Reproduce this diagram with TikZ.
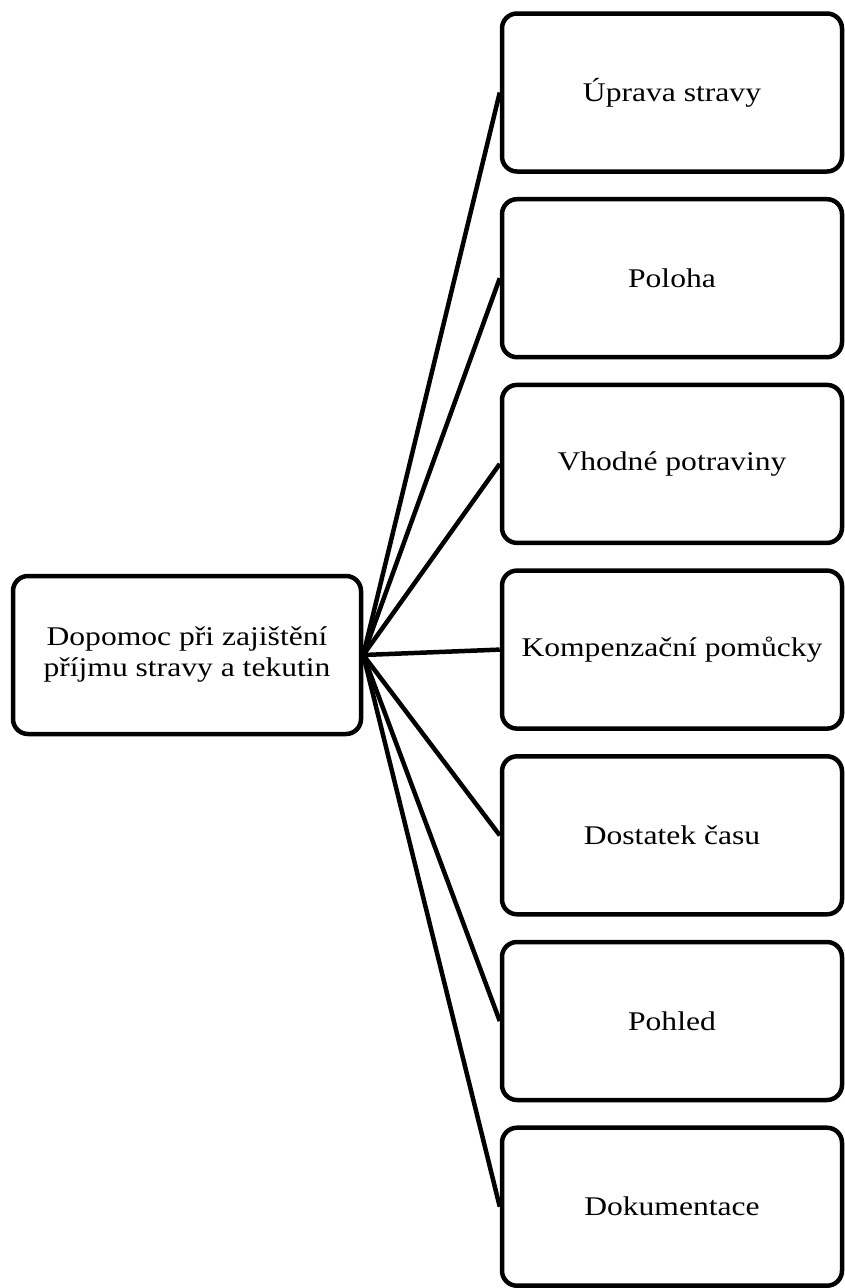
\documentclass[tikz,border=0pt]{standalone}
\usepackage{fontspec}
\setmainfont{Liberation Serif}[FakeStretch=1.17]
\usetikzlibrary{positioning}

\begin{document}
\begin{tikzpicture}[x=1pt, y=1pt]
    \tikzstyle{itembox}=[draw, line width=4.5pt, rounded corners=15pt, minimum width=340pt, minimum height=158pt, rectangle, font=\fontsize{27}{31}\selectfont]
    \tikzstyle{mainbox}=[itembox, minimum width=348pt, align=center]
    \tikzstyle{link}=[line width=4.5pt]

    \useasboundingbox (0,0) rectangle (845,-1288);

    \node[mainbox] (main) at (187,-655) {Dopomoc při zajištění\\příjmu stravy a tekutin};

    \foreach \txt [count=\i] in {Úprava stravy, Poloha, Vhodné potraviny, Kompenzační pomůcky, Dostatek času, Pohled, Dokumentace} {
        \node[itembox] (item\i) at (672,{-92.5-185.7*(\i-1)}) {\txt};
        \draw[link] (main.east) -- (item\i.west);
    }
\end{tikzpicture}
\end{document}
